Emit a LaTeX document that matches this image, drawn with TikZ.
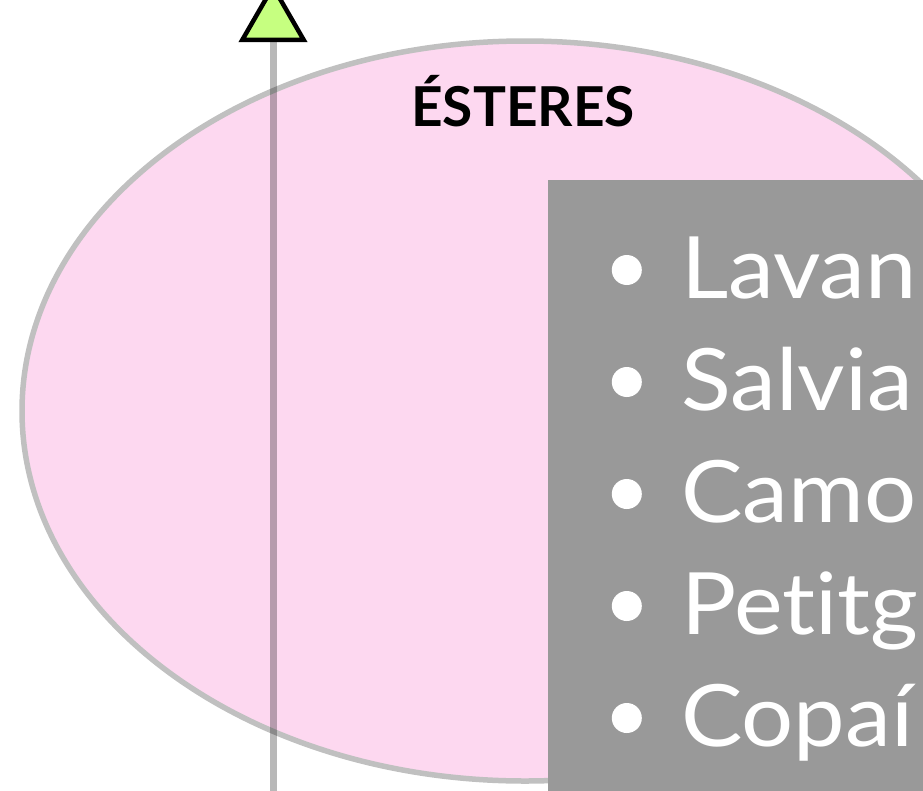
\documentclass[tikz,border=0pt]{standalone}
\usepackage{fontspec}
\setmainfont{Lato}
\newfontfamily\listfont[FakeStretch=1.07,Ligatures=NoCommon]{Lato}
\usetikzlibrary{positioning,shapes.geometric}
\definecolor{esterpink}{HTML}{FDD8F0}
\definecolor{shellgray}{HTML}{C0C0C0}
\definecolor{tipgreen}{HTML}{C6FF80}
\definecolor{panelgray}{HTML}{999999}

\begin{document}
\begin{tikzpicture}[
  x=1pt,y=-1pt,
  line cap=round,line join=round
]
  \tikzset{
    shell/.style={ellipse,fill=esterpink,draw=shellgray,line width=5.5pt,
      minimum width=1006pt,minimum height=740pt,inner sep=0pt},
    axisline/.style={draw=black,draw opacity=0.28,line width=7pt,line cap=butt},
    tiptri/.style={regular polygon,regular polygon sides=3,draw=black,fill=tipgreen,
      line width=4.5pt,line join=miter,minimum size=71pt,inner sep=0pt,outer sep=0pt},
    heading/.style={font=\fontsize{55}{58}\selectfont\bfseries,text=black},
    panel/.style={fill=panelgray,anchor=north west,minimum width=420pt,minimum height=640pt,inner sep=0pt},
    item/.style={text=white,anchor=base west,inner sep=0pt,font=\listfont\fontsize{86}{100}\selectfont},
    dot/.style={circle,fill=white,minimum size=30pt,inner sep=0pt}
  }
  \useasboundingbox (0,0) rectangle (923,790);
  \clip (0,0) rectangle (923,790);

  % Ester region
  \node[shell] (esters) at (525,411) {};
  \node[heading] (title) at (523,101) {ÉSTERES};

  % Vertical axis with tip
  \coordinate (axisfoot) at (273,800);
  \coordinate (axishead) at (273,40);
  \draw[axisline] (axisfoot) -- (axishead);
  \node[tiptri,above=0pt of axishead] (tip) {};

  % Oil list
  \node[panel] (list) at (548,180) {};
  \node[item] (lav) at (681,298) {Lavan};
  \node[item] (sal) at (681,410) {Salvia};
  \node[item] (cam) at (681,522) {Camo};
  \node[item] (pet) at (681,634) {Petitg};
  \node[item] (cop) at (681,746) {Copaí};
  \node[dot,left=39pt of lav.base west,yshift=28pt] (d1) {};
  \node[dot,left=39pt of sal.base west,yshift=28pt] (d2) {};
  \node[dot,left=39pt of cam.base west,yshift=28pt] (d3) {};
  \node[dot,left=39pt of pet.base west,yshift=28pt] (d4) {};
  \node[dot,left=39pt of cop.base west,yshift=28pt] (d5) {};
\end{tikzpicture}
\end{document}
